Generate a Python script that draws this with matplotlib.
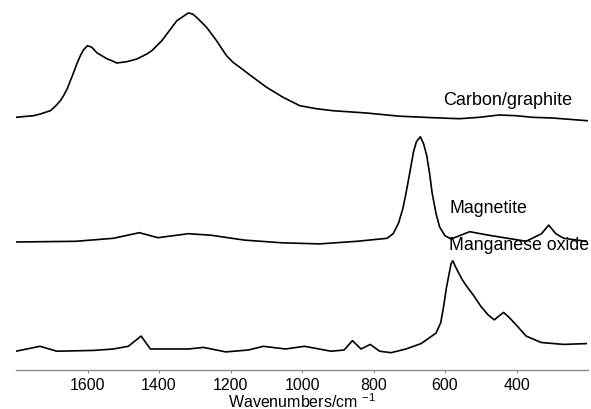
import matplotlib
matplotlib.use("Agg")
import matplotlib.pyplot as plt
import numpy as np

plt.rcParams['font.family'] = ['Liberation Sans', 'DejaVu Sans']

# spectra (wavenumber cm-1, intensity a.u.)
carbon_wn = [1800, 1751, 1732, 1704, 1690, 1676, 1667, 1657, 1648, 1639, 1630, 1620,
             1611, 1600, 1588, 1574, 1546, 1532, 1518, 1490, 1462, 1434, 1420, 1406,
             1392, 1378, 1364, 1350, 1336, 1318, 1306, 1295, 1281, 1267, 1253, 1239,
             1225, 1211, 1193, 1174, 1137, 1099, 1053, 1006, 960, 914, 820, 727, 634,
             560, 504, 449, 401, 356, 300, 202]
carbon_int = [4.4, 6, 7.7, 11, 15.4, 21, 26, 32.7, 41, 49, 57.7, 66,
              72, 76, 74.4, 69, 63, 61, 58.7, 60, 62.7, 67.7, 71, 76,
              81, 87.7, 94.4, 101, 104.4, 108.7, 107.7, 104.4, 99.4, 94.4, 87.7, 81,
              73.4, 66, 59.4, 54.4, 44.4, 34.4, 24.4, 16, 13, 11, 8.7, 5.5, 4,
              3, 4.4, 6.7, 6, 4.4, 3.7, 1]

magnetite_wn = [1800, 1633, 1528, 1455, 1403, 1318, 1255, 1161, 1056, 951, 846, 762,
                745, 730, 718, 709, 698, 688, 680, 669, 660, 651, 643, 636, 625, 615,
                600, 583, 531, 478, 373, 330, 310, 290, 268, 205]
magnetite_int = [1.7, 2.4, 5.4, 11, 6, 10, 8.5, 3.6, 0.9, -0.2, 2.4, 5.4,
                 10, 20.5, 35, 50.6, 72, 92, 102, 107, 100, 88, 70, 50.7, 30, 16.7,
                 8, 4.7, 12, 8.5, 2.4, 10, 18.6, 10, 5.4, 2.4]

mnox_wn = [1800, 1733, 1686, 1581, 1528, 1486, 1450, 1424, 1318, 1276, 1213, 1150,
           1108, 1046, 993, 919, 882, 859, 835, 809, 783, 751, 709, 667, 625, 612, 604,
           596, 588, 583, 578, 572, 562, 550, 536, 520, 499, 480, 462, 448, 436, 420, 404,
           373, 331, 268, 205]
mnox_int = [1.5, 6.4, 1.5, 2.3, 3.7, 6.4, 16.6, 3.7, 3.7, 5.3, 0.8, 2.7,
            6.4, 3.7, 6.4, 1.5, 2.7, 12.1, 3.7, 8.3, 1.5, 0, 3.7, 9.1, 19.6, 30, 46,
            65, 79.8, 89, 91.9, 87, 79.8, 72, 64.8, 57.2, 46, 38, 32.8, 37, 40.3, 35, 29,
            16.6, 10.2, 8.3, 9.1]

names = ['Carbon/graphite', 'Magnetite', 'Manganese oxide']
offsets = [248, 126, 17]

fig = plt.figure(figsize=(5.91, 4.10), dpi=100)
ax = fig.add_axes([16 / 591, (410 - 370.7) / 410, 572 / 591, 370.7 / 410])

for wn, inten, off in zip([carbon_wn, magnetite_wn, mnox_wn],
                          [carbon_int, magnetite_int, mnox_int], offsets):
    ax.plot(wn, np.array(inten) + off, color='black', lw=1.2)

# labels
ax.text(605, 266, names[0], fontsize=13, va='baseline', ha='left')
ax.text(588, 157.7, names[1], fontsize=12.8, va='baseline', ha='left')
ax.text(588, 121, names[2], fontsize=12.8, va='baseline', ha='left')

ax.set_xlim(1800, 200)
ax.set_ylim(0, 370.7)
ax.set_xticks([1600, 1400, 1200, 1000, 800, 600, 400])
ax.set_yticks([])
for s in ['left', 'right', 'top']:
    ax.spines[s].set_visible(False)
ax.spines['bottom'].set_color('#8a8a8a')
ax.spines['bottom'].set_linewidth(1.0)
ax.tick_params(axis='x', direction='out', length=2.5, color='#8a8a8a',
               labelsize=11.5, pad=3)
ax.set_xlabel('Wavenumbers/cm $^{\\mathregular{-1}}$', fontsize=11.5, labelpad=-1)
ax.patch.set_visible(False)

fig.savefig('out.png', dpi=100)
